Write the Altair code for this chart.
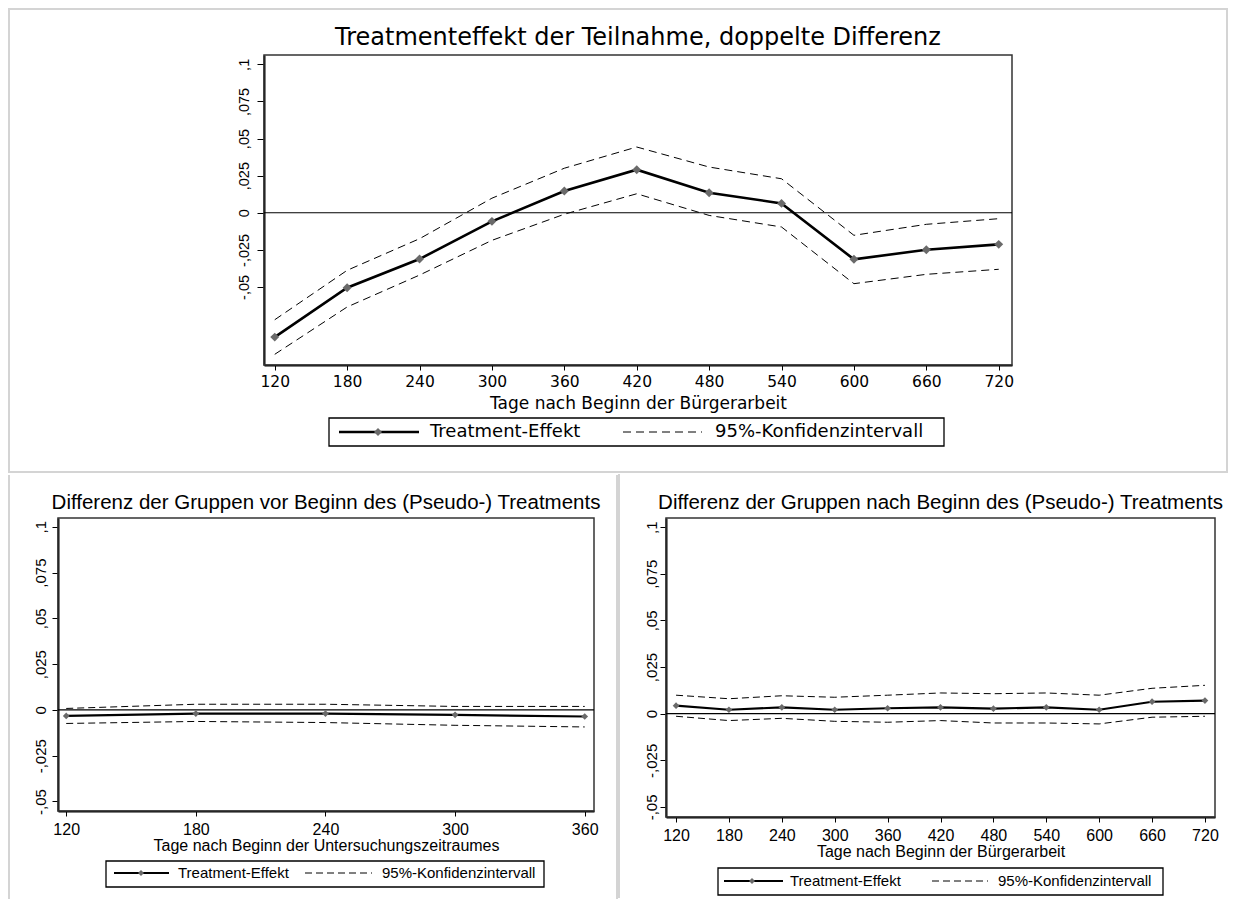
import altair as alt
import pandas as pd

# ---------------- data ----------------
DAYS_MAIN = [120, 180, 240, 300, 360, 420, 480, 540, 600, 660, 720]
MAIN_TE = [-0.0838, -0.0505, -0.0312, -0.0058, 0.0146, 0.0290, 0.0135, 0.0063, -0.0314, -0.0249, -0.0213]
MAIN_HI = [-0.0721, -0.0388, -0.0175, 0.0098, 0.0300, 0.0443, 0.0308, 0.0229, -0.0152, -0.0078, -0.0040]
MAIN_LO = [-0.0954, -0.0635, -0.0420, -0.0186, -0.0010, 0.0128, -0.0018, -0.0096, -0.0478, -0.0415, -0.0381]

DAYS_PRE = [120, 180, 240, 300, 360]
PRE_TE = [-0.0033, -0.0020, -0.0020, -0.0027, -0.0036]
PRE_HI = [0.0008, 0.0031, 0.0031, 0.0019, 0.0019]
PRE_LO = [-0.0074, -0.0063, -0.0069, -0.0084, -0.0093]

DAYS_POST = [120, 180, 240, 300, 360, 420, 480, 540, 600, 660, 720]
POST_TE = [0.0043, 0.0021, 0.0034, 0.0021, 0.0029, 0.0034, 0.0027, 0.0034, 0.0021, 0.0064, 0.0070]
POST_HI = [0.0099, 0.0080, 0.0096, 0.0088, 0.0099, 0.0111, 0.0107, 0.0111, 0.0099, 0.0136, 0.0152]
POST_LO = [-0.0014, -0.0037, -0.0025, -0.0041, -0.0046, -0.0037, -0.0050, -0.0050, -0.0055, -0.0019, -0.0014]

Y_TICKS = [-0.05, -0.025, 0, 0.025, 0.05, 0.075, 0.1]
LEGEND_LABELS = ["Treatment-Effekt", "95%-Konfidenzintervall"]

TITLE_MAIN = "Treatmenteffekt der Teilnahme, doppelte Differenz"
TITLE_PRE = "Differenz der Gruppen vor Beginn des (Pseudo-) Treatments"
TITLE_POST = "Differenz der Gruppen nach Beginn des (Pseudo-) Treatments"
XTITLE_MAIN = "Tage nach Beginn der Bürgerarbeit"
XTITLE_PRE = "Tage nach Beginn der Untersuchungszeitraumes"

ONE = pd.DataFrame({"k": [0]})
LABEL_EXPR = "replace(replace(format(datum.value, '.3~f'), '\u2212', '-'), '0.', ',')"


def panel(days, te, lo, hi, c):
    df = pd.DataFrame({"day": days, "te": te, "lo": lo, "hi": hi})
    w, h, dx = c["w"], c["h"], c["dx"]
    xs = alt.Scale(domain=c["xdom"], range=[dx, dx + w], nice=False, zero=False)
    ys = alt.Scale(domain=c["ydom"], nice=False, zero=False)
    xax = alt.Axis(values=days, format="d", grid=False, labelFont=c["xfont"],
                   labelFontSize=c["xfs"], labelColor="black", labelPadding=c["xlp"],
                   tickSize=5, tickColor="black", domainColor="black", domainWidth=2,
                   labelFlush=False, labelOverlap=False, title=c["xtitle"],
                   titleFont=c["xtfont"], titleFontSize=c["xtfs"], titleFontWeight="normal",
                   titleColor="black", titleY=c["xty"], titleBaseline="middle")
    yax = alt.Axis(values=Y_TICKS, labelExpr=LABEL_EXPR, grid=False, labelAngle=270,
                   labelAlign="center", labelBaseline="bottom", labelFont=c["yfont"],
                   labelFontSize=c["yfs"], labelColor="black", labelPadding=c["ylp"],
                   tickSize=c["yts"], tickColor="black", domainColor="black", domainWidth=2,
                   labelFlush=False, labelOverlap=False, title=None, offset=-dx)
    base = alt.Chart(df)
    x = alt.X("day:Q", scale=xs, axis=xax)

    def vx(v):
        return alt.value(v + dx)

    layers = []
    # outer light-gray panel frame
    for fr in c["frames"]:
        if fr[0] == "rect":
            layers.append(alt.Chart(ONE).mark_rect(fillOpacity=0, stroke="#d4d4d4", strokeWidth=2).encode(
                x=vx(fr[1]), y=alt.value(fr[2]), x2=vx(fr[3]), y2=alt.value(fr[4])))
        else:
            layers.append(alt.Chart(ONE).mark_rule(color="#d4d4d4", strokeWidth=2).encode(
                x=vx(fr[1]), y=alt.value(fr[2]), y2=alt.value(fr[3])))
    # plot region frame (drawn through the scales)
    layers.append(alt.Chart(ONE).mark_rect(fillOpacity=0, stroke="#333333", strokeWidth=1.5).encode(
        x=alt.datum(c["xdom"][0], scale=xs, axis=xax), x2=alt.datum(c["xdom"][1]),
        y=alt.datum(c["ydom"][0], scale=ys, axis=yax), y2=alt.datum(c["ydom"][1])))
    # zero line
    layers.append(alt.Chart(ONE).mark_rule(color="black", strokeWidth=1.1).encode(
        x=alt.datum(c["xdom"][0], scale=xs, axis=xax), x2=alt.datum(c["xdom"][1]),
        y=alt.datum(0, scale=ys, axis=yax)))
    # confidence bounds
    layers.append(base.transform_fold(["lo", "hi"], as_=["bound", "val"]).mark_line(
        color="black", strokeWidth=1, strokeDash=c["dash"]).encode(
        x=x, y=alt.Y("val:Q", scale=ys, axis=yax), detail="bound:N"))
    # treatment effect
    layers.append(base.mark_line(color="black", strokeWidth=c["tew"]).encode(
        x=x, y=alt.Y("te:Q", scale=ys, axis=yax)))
    layers.append(base.mark_point(shape="diamond", filled=True, color="#6a6a6a", opacity=1,
                                  size=c["ps"]).encode(x=x, y=alt.Y("te:Q", scale=ys, axis=yax)))
    # title
    layers.append(alt.Chart(ONE).mark_text(font=c["tfont"], fontSize=c["tfs"], color="black",
                                            align="center", baseline="middle").encode(
        x=vx(w / 2), y=alt.value(c["ty"]), text=alt.value(c["title"])))
    # legend
    L = c["leg"]
    layers.append(alt.Chart(ONE).mark_rect(fill="white", stroke="black", strokeWidth=1.3).encode(
        x=vx(L["box"][0]), y=alt.value(L["box"][1]),
        x2=vx(L["box"][2]), y2=alt.value(L["box"][3])))
    layers.append(alt.Chart(ONE).mark_rule(color="black", strokeWidth=c["tew"]).encode(
        x=vx(L["line"][0]), x2=vx(L["line"][1]), y=alt.value(L["yc"])))
    layers.append(alt.Chart(ONE).mark_point(shape="diamond", filled=True, color="#6a6a6a",
                                             opacity=1, size=c["ps"] * 0.8).encode(
        x=vx(L["dia"]), y=alt.value(L["yc"])))
    layers.append(alt.Chart(ONE).mark_rule(color="black", strokeWidth=1, strokeDash=c["dash"]).encode(
        x=vx(L["dash"][0]), x2=vx(L["dash"][1]), y=alt.value(L["yc"])))
    for lab, tx in zip(LEGEND_LABELS, L["tx"]):
        layers.append(alt.Chart(ONE).mark_text(font=L["font"], fontSize=L["fs"], color="black",
                                                align="left", baseline="middle").encode(
            x=vx(tx), y=alt.value(L["yc"]), text=alt.value(lab)))
    return alt.layer(*layers).properties(width=dx + w, height=h)


main = panel(DAYS_MAIN, MAIN_TE, MAIN_LO, MAIN_HI, dict(
    w=748, h=310, dx=206, xdom=[111.1, 731.0], ydom=[-0.1026, 0.1063],
    frames=[("rect", -255, -46, 963, 417)],
    title=TITLE_MAIN, tfont="DejaVu Sans", tfs=24, ty=-17,
    xfont="DejaVu Sans", xfs=15.5, xlp=4, xtitle=XTITLE_MAIN, xtfont="DejaVu Sans", xtfs=17, xty=38,
    yfont="Liberation Sans", yfs=14.5, ylp=6, yts=7,
    tew=2.6, ps=80, dash=[8, 5],
    leg=dict(box=[65, 363, 680, 391], yc=377, line=[75, 155], dia=114, dash=[359, 438],
             tx=[166, 451], font="DejaVu Sans", fs=18),
))

pre = panel(DAYS_PRE, PRE_TE, PRE_LO, PRE_HI, dict(
    w=536, h=293, dx=0, xdom=[116.2, 364.3], ydom=[-0.0552, 0.1048],
    frames=[("rule", -49, -43, 381), ("rule", 559, -43, 381)],
    title=TITLE_PRE, tfont="Liberation Sans", tfs=20.5, ty=-15,
    xfont="Liberation Sans", xfs=16, xlp=5, xtitle=XTITLE_PRE, xtfont="Liberation Sans", xtfs=16, xty=34.5,
    yfont="Liberation Sans", yfs=15, ylp=4, yts=6,
    tew=2.2, ps=45, dash=[7, 4],
    leg=dict(box=[48, 343, 486, 369], yc=355, line=[56, 111], dia=83, dash=[247, 314],
             tx=[120, 324], font="Liberation Sans", fs=15),
))

post = panel(DAYS_POST, POST_TE, POST_LO, POST_HI, dict(
    w=549, h=299, dx=0, xdom=[108.6, 731.4], ydom=[-0.0554, 0.1049],
    frames=[("rule", -47, -44, 380)],
    title=TITLE_POST, tfont="Liberation Sans", tfs=20.5, ty=-15,
    xfont="Liberation Sans", xfs=16, xlp=5, xtitle=XTITLE_MAIN, xtfont="Liberation Sans", xtfs=16, xty=34.5,
    yfont="Liberation Sans", yfs=15, ylp=1, yts=6,
    tew=2.2, ps=45, dash=[7, 4],
    leg=dict(box=[52, 350, 497, 377], yc=363, line=[58, 117], dia=86, dash=[266, 322],
             tx=[124, 332], font="Liberation Sans", fs=15),
))

chart = alt.vconcat(
    main,
    alt.hconcat(pre, post, spacing=0),
    spacing=0,
).properties(padding=0, background="white").configure_view(strokeWidth=0)

chart.save("out.html", embed_options={"renderer": "svg", "actions": False})
